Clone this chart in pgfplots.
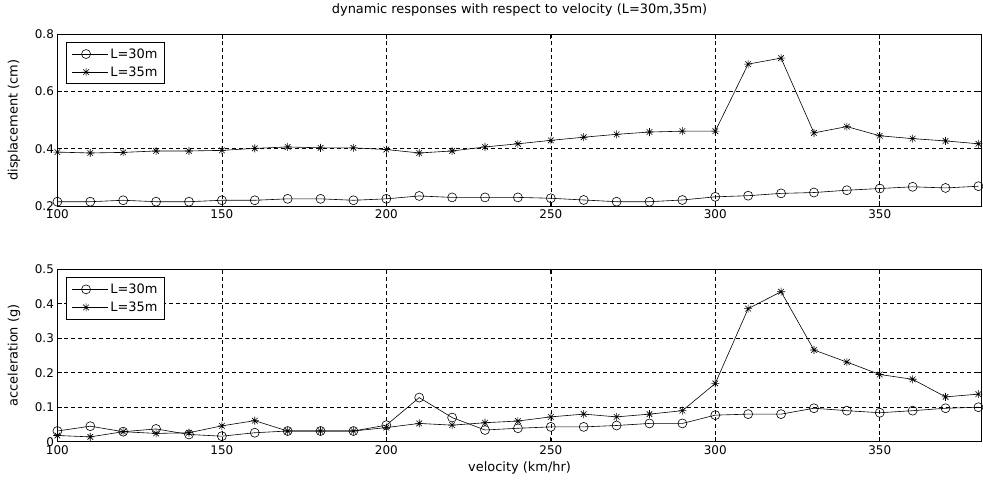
\documentclass[border=0pt]{standalone}
\usepackage{pgfplots}
\pgfplotsset{compat=1.18}
\usepackage{fontspec}
\setmainfont{DejaVu Sans}
\pgfdeclareplotmark{mstar}{%
  \pgfpathmoveto{\pgfqpoint{0pt}{-\pgfplotmarksize}}\pgfpathlineto{\pgfqpoint{0pt}{\pgfplotmarksize}}%
  \pgfpathmoveto{\pgfqpoint{-\pgfplotmarksize}{0pt}}\pgfpathlineto{\pgfqpoint{\pgfplotmarksize}{0pt}}%
  \pgfpathmoveto{\pgfqpoint{-0.7\pgfplotmarksize}{-0.7\pgfplotmarksize}}\pgfpathlineto{\pgfqpoint{0.7\pgfplotmarksize}{0.7\pgfplotmarksize}}%
  \pgfpathmoveto{\pgfqpoint{-0.7\pgfplotmarksize}{0.7\pgfplotmarksize}}\pgfpathlineto{\pgfqpoint{0.7\pgfplotmarksize}{-0.7\pgfplotmarksize}}%
  \pgfusepathqstroke}
\pgfplotsset{
  mystyle/.style={
    width=924.3bp, scale only axis, xmin=100, xmax=381,
    tick align=inside, major tick length=5bp,
    grid=major,
    major grid style={dash pattern=on 4bp off 3bp, black, line width=0.6bp},
    axis line style={line width=0.8bp},
    every tick/.style={black, line width=0.7bp},
    ticklabel style={font=\fontsize{12}{14}\selectfont},
    /pgf/number format/assume math mode=true,
    xtick={100,150,200,250,300,350},
    xticklabels={100,150,200,250,300,350},
    clip=false,
    label style={font=\fontsize{13}{15}\selectfont},
    ylabel style={at={(axis description cs:-0.047,0.5)}, anchor=center},
    legend style={at={(axis description cs:0.0097,0.953)}, anchor=north west,
      draw=black, line width=0.8bp, fill=white, font=\fontsize{13}{15}\selectfont,
      inner xsep=5bp, inner ysep=4bp, row sep=3bp},
    legend cell align=left,
    legend image code/.code={\draw[mark repeat=2,mark phase=2,#1] plot coordinates {(0bp,0bp) (14bp,0bp) (28bp,0bp)};
      \path (0bp,0bp) -- (36bp,0bp);},
    every axis plot/.append style={line width=0.6bp, black},
  }
}
\begin{document}
\begin{tikzpicture}
\useasboundingbox (0,0) rectangle (983bp,-488bp);
\begin{axis}[mystyle, at={(57.4bp,-206bp)}, anchor=south west, height=172bp,
  ymin=0.2, ymax=0.8, ytick={0.2,0.4,0.6,0.8}, yticklabels={0.2,0.4,0.6,0.8},
  ylabel={displacement (cm)},
  title={dynamic responses with respect to velocity (L=30m,35m)},
  title style={at={(axis description cs:0.5,1)}, anchor=center, yshift=18bp, font=\fontsize{13}{15}\selectfont}]
\addplot[mark=o, mark size=4.5bp, mark options={solid, line width=0.6bp}] coordinates {
(100,0.215)(110,0.215)(120,0.22)(130,0.215)(140,0.215)(150,0.22)(160,0.22)(170,0.225)(180,0.225)(190,0.22)
(200,0.225)(210,0.235)(220,0.23)(230,0.23)(240,0.23)(250,0.227)(260,0.221)(270,0.215)(280,0.215)(290,0.221)
(300,0.232)(310,0.236)(320,0.244)(330,0.247)(340,0.255)(350,0.261)(360,0.267)(370,0.263)(380,0.269)};
\addlegendentry{L=30m\hspace{10bp}}
\addplot[mark=mstar, mark size=4bp, mark options={solid, line width=0.6bp}] coordinates {
(100,0.388)(110,0.385)(120,0.387)(130,0.392)(140,0.392)(150,0.394)(160,0.401)(170,0.406)(180,0.403)(190,0.403)
(200,0.397)(210,0.385)(220,0.392)(230,0.406)(240,0.417)(250,0.429)(260,0.44)(270,0.45)(280,0.458)(290,0.461)
(300,0.461)(310,0.695)(320,0.716)(330,0.455)(340,0.477)(350,0.445)(360,0.435)(370,0.427)(380,0.417)};
\addlegendentry{L=35m\hspace{10bp}}
\end{axis}
\begin{axis}[mystyle, at={(57.4bp,-441.7bp)}, anchor=south west, height=172.4bp,
  ymin=0, ymax=0.5, ytick={0,0.1,0.2,0.3,0.4,0.5}, yticklabels={0,0.1,0.2,0.3,0.4,0.5},
  ylabel={acceleration (g)},
  xlabel={velocity (km/hr)},
  xlabel style={at={(axis description cs:0.5,-0.153)}, anchor=center}]
\addplot[mark=o, mark size=4.5bp, mark options={solid, line width=0.6bp}] coordinates {
(100,0.031)(110,0.045)(120,0.029)(130,0.037)(140,0.021)(150,0.016)(160,0.026)(170,0.031)(180,0.031)(190,0.031)
(200,0.048)(210,0.128)(220,0.07)(230,0.034)(240,0.039)(250,0.043)(260,0.043)(270,0.047)(280,0.053)(290,0.053)
(300,0.077)(310,0.08)(320,0.08)(330,0.097)(340,0.09)(350,0.084)(360,0.09)(370,0.097)(380,0.1)};
\addlegendentry{L=30m\hspace{10bp}}
\addplot[mark=mstar, mark size=4bp, mark options={solid, line width=0.6bp}] coordinates {
(100,0.018)(110,0.014)(120,0.029)(130,0.024)(140,0.026)(150,0.046)(160,0.061)(170,0.031)(180,0.031)(190,0.031)
(200,0.041)(210,0.053)(220,0.048)(230,0.055)(240,0.06)(250,0.072)(260,0.08)(270,0.072)(280,0.08)(290,0.09)
(300,0.169)(310,0.386)(320,0.435)(330,0.266)(340,0.231)(350,0.195)(360,0.181)(370,0.13)(380,0.138)};
\addlegendentry{L=35m\hspace{10bp}}
\end{axis}
\end{tikzpicture}
\end{document}
